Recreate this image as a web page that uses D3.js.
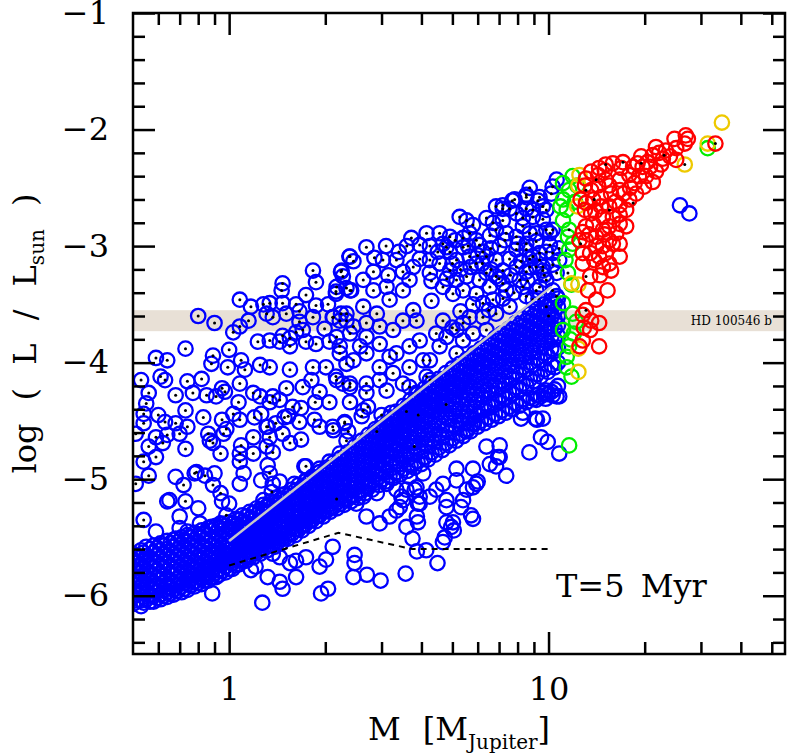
<!DOCTYPE html>
<html>
<head>
<meta charset="utf-8">
<script src="https://cdn.jsdelivr.net/npm/d3@7"></script>
<style>
  body { margin: 0; background: #fff; }
  text { font-family: "DejaVu Serif", serif; fill: #000; }
</style>
</head>
<body>
<svg id="chart" width="789" height="756"></svg>
<script>
// ---- data (mass in M_Jupiter, log L/Lsun) ----

// dense lower sequence, one row per mass column: [mass, logL, logL, ...]
var bandCols = [
  [0.50, -5.64,-5.69,-5.77,-5.83,-5.87,-5.95,-6.01,-6.07],
  [0.53, -5.61,-5.67,-5.73,-5.8,-5.86,-5.92,-5.98,-6.04,-6.09],
  [0.55, -5.58,-5.66,-5.71,-5.79,-5.84,-5.9,-5.97,-6.03],
  [0.58, -5.57,-5.63,-5.7,-5.75,-5.82,-5.89,-5.94,-6.0,-6.05],
  [0.61, -5.55,-5.61,-5.68,-5.74,-5.81,-5.86,-5.92,-5.99,-6.03],
  [0.64, -5.53,-5.6,-5.66,-5.72,-5.78,-5.85,-5.9,-5.97,-6.01],
  [0.67, -5.52,-5.58,-5.64,-5.7,-5.77,-5.82,-5.89,-5.95,-5.99],
  [0.71, -5.5,-5.56,-5.62,-5.68,-5.75,-5.8,-5.87,-5.92,-5.97],
  [0.74, -5.48,-5.54,-5.6,-5.67,-5.72,-5.79,-5.84,-5.9,-5.95],
  [0.78, -5.46,-5.52,-5.58,-5.64,-5.71,-5.76,-5.82,-5.88,-5.92],
  [0.82, -5.44,-5.5,-5.57,-5.62,-5.68,-5.74,-5.8,-5.85,-5.9],
  [0.86, -5.42,-5.48,-5.54,-5.6,-5.66,-5.72,-5.77,-5.83,-5.87],
  [0.91, -5.4,-5.46,-5.52,-5.58,-5.63,-5.7,-5.75,-5.8,-5.84],
  [0.95, -5.39,-5.44,-5.5,-5.56,-5.62,-5.68,-5.73,-5.79],
  [1.00, -5.37,-5.42,-5.48,-5.54,-5.6,-5.65,-5.71,-5.77],
  [1.05, -5.34,-5.4,-5.46,-5.51,-5.57,-5.63,-5.68,-5.74],
  [1.10, -5.31,-5.37,-5.43,-5.49,-5.54,-5.6,-5.65,-5.7],
  [1.16, -5.28,-5.34,-5.4,-5.46,-5.51,-5.57,-5.62,-5.67],
  [1.22, -5.25,-5.31,-5.37,-5.43,-5.48,-5.54,-5.59,-5.63],
  [1.28, -5.22,-5.28,-5.34,-5.4,-5.45,-5.51,-5.56,-5.6],
  [1.35, -5.19,-5.25,-5.31,-5.37,-5.42,-5.48,-5.53,-5.57],
  [1.42, -5.16,-5.22,-5.28,-5.33,-5.39,-5.45,-5.5,-5.54],
  [1.49, -5.13,-5.19,-5.25,-5.3,-5.36,-5.41,-5.46,-5.51],
  [1.57, -5.09,-5.15,-5.21,-5.27,-5.32,-5.37,-5.42,-5.47],
  [1.65, -5.05,-5.11,-5.17,-5.22,-5.28,-5.33,-5.38,-5.43],
  [1.73, -5.02,-5.08,-5.14,-5.19,-5.25,-5.3,-5.35,-5.39],
  [1.82, -4.98,-5.04,-5.1,-5.16,-5.21,-5.26,-5.31,-5.35],
  [1.92, -4.94,-5.0,-5.06,-5.11,-5.17,-5.22,-5.27,-5.31],
  [2.02, -4.9,-4.96,-5.02,-5.08,-5.13,-5.18,-5.23,-5.27],
  [2.12, -4.86,-4.92,-4.98,-5.03,-5.09,-5.14,-5.19,-5.24],
  [2.23, -4.82,-4.88,-4.94,-5.0,-5.05,-5.11,-5.16,-5.21],
  [2.35, -4.77,-4.83,-4.89,-4.95,-5.01,-5.06,-5.12,-5.17],
  [2.47, -4.72,-4.78,-4.84,-4.9,-4.96,-5.02,-5.08,-5.14],
  [2.60, -4.67,-4.73,-4.79,-4.85,-4.91,-4.97,-5.04,-5.1],
  [2.73, -4.62,-4.68,-4.74,-4.8,-4.87,-4.93,-5.0,-5.07],
  [2.87, -4.57,-4.63,-4.69,-4.76,-4.82,-4.89,-4.96,-5.03],
  [3.02, -4.52,-4.58,-4.64,-4.71,-4.77,-4.84,-4.92,-5.0],
  [3.18, -4.47,-4.53,-4.6,-4.66,-4.73,-4.8,-4.88,-4.97],
  [3.34, -4.42,-4.48,-4.55,-4.62,-4.69,-4.76,-4.85,-4.94],
  [3.52, -4.37,-4.43,-4.5,-4.57,-4.64,-4.72,-4.81,-4.91],
  [3.70, -4.32,-4.38,-4.45,-4.52,-4.6,-4.68,-4.78,-4.88],
  [3.89, -4.27,-4.33,-4.4,-4.47,-4.55,-4.63,-4.74,-4.85],
  [4.10, -4.22,-4.28,-4.35,-4.43,-4.51,-4.6,-4.7,-4.81],
  [4.30, -4.18,-4.24,-4.31,-4.39,-4.47,-4.56,-4.66,-4.77],
  [4.53, -4.14,-4.2,-4.27,-4.35,-4.43,-4.52,-4.62,-4.73],
  [4.77, -4.09,-4.15,-4.22,-4.3,-4.38,-4.47,-4.58,-4.69],
  [5.00, -4.05,-4.11,-4.18,-4.26,-4.34,-4.43,-4.54,-4.65],
  [5.27, -4.01,-4.07,-4.14,-4.22,-4.3,-4.4,-4.5,-4.61],
  [5.55, -3.97,-4.03,-4.1,-4.18,-4.26,-4.36,-4.46,-4.57],
  [5.84, -3.92,-3.98,-4.05,-4.13,-4.22,-4.32,-4.42,-4.53],
  [6.14, -3.88,-3.94,-4.01,-4.09,-4.18,-4.28,-4.39,-4.5],
  [6.46, -3.84,-3.9,-3.97,-4.05,-4.14,-4.24,-4.36,-4.47],
  [6.80, -3.79,-3.86,-3.93,-4.01,-4.1,-4.2,-4.32,-4.44],
  [7.15, -3.75,-3.82,-3.89,-3.97,-4.06,-4.16,-4.28,-4.41],
  [7.52, -3.71,-3.78,-3.85,-3.93,-4.02,-4.12,-4.25,-4.38],
  [7.90, -3.66,-3.73,-3.8,-3.88,-3.97,-4.08,-4.21,-4.35],
  [8.30, -3.62,-3.69,-3.76,-3.84,-3.93,-4.04,-4.18,-4.32],
  [8.75, -3.58,-3.65,-3.72,-3.8,-3.89,-4.0,-4.14,-4.3],
  [9.20, -3.54,-3.61,-3.68,-3.76,-3.85,-3.96,-4.1,-4.28],
  [9.70, -3.5,-3.57,-3.64,-3.72,-3.81,-3.92,-4.06,-4.26],
  [10.2, -3.47,-3.54,-3.61,-3.69,-3.78,-3.88,-4.02,-4.25],
  [10.7, -3.45,-3.52,-3.6,-3.68,-3.77,-3.87,-4.0,-4.2]
];

// second, staggered set of columns in the same sequence
var bandColsMid = [
  [0.515, -5.66,-5.72,-5.79,-5.85,-5.91,-5.97,-6.04],
  [0.54, -5.63,-5.7,-5.76,-5.83,-5.89,-5.95,-6.01,-6.06],
  [0.565, -5.6,-5.68,-5.74,-5.81,-5.87,-5.93,-6.0,-6.05],
  [0.595, -5.59,-5.65,-5.72,-5.78,-5.84,-5.91,-5.96,-6.02],
  [0.625, -5.57,-5.64,-5.7,-5.76,-5.83,-5.89,-5.95,-6.0],
  [0.655, -5.55,-5.62,-5.68,-5.75,-5.81,-5.87,-5.93,-5.98],
  [0.69, -5.54,-5.6,-5.66,-5.72,-5.79,-5.85,-5.91,-5.96],
  [0.725, -5.52,-5.58,-5.65,-5.71,-5.77,-5.83,-5.89,-5.94],
  [0.76, -5.5,-5.56,-5.63,-5.69,-5.75,-5.81,-5.86,-5.91],
  [0.80, -5.48,-5.54,-5.61,-5.67,-5.73,-5.79,-5.84,-5.89],
  [0.84, -5.46,-5.52,-5.59,-5.65,-5.71,-5.77,-5.82,-5.87],
  [0.885, -5.44,-5.5,-5.57,-5.63,-5.69,-5.74,-5.79,-5.84],
  [0.93, -5.42,-5.48,-5.55,-5.61,-5.67,-5.72,-5.77,-5.82],
  [0.975, -5.4,-5.46,-5.52,-5.59,-5.64,-5.7,-5.75,-5.8],
  [1.025, -5.38,-5.44,-5.5,-5.56,-5.62,-5.67,-5.72,-5.77],
  [1.075, -5.35,-5.41,-5.47,-5.53,-5.59,-5.64,-5.69,-5.73],
  [1.13, -5.32,-5.38,-5.44,-5.5,-5.56,-5.61,-5.66,-5.7],
  [1.19, -5.29,-5.35,-5.41,-5.47,-5.53,-5.58,-5.63,-5.67],
  [1.25, -5.26,-5.32,-5.38,-5.44,-5.5,-5.55,-5.6,-5.64],
  [1.315, -5.23,-5.29,-5.35,-5.41,-5.47,-5.52,-5.57,-5.61],
  [1.385, -5.2,-5.26,-5.32,-5.38,-5.44,-5.49,-5.54,-5.58],
  [1.455, -5.17,-5.23,-5.29,-5.35,-5.41,-5.46,-5.51,-5.55],
  [1.53, -5.14,-5.2,-5.26,-5.32,-5.37,-5.42,-5.47,-5.51],
  [1.61, -5.1,-5.16,-5.22,-5.28,-5.33,-5.38,-5.43,-5.48],
  [1.69, -5.07,-5.13,-5.19,-5.24,-5.3,-5.35,-5.4,-5.44],
  [1.775, -5.03,-5.09,-5.15,-5.21,-5.26,-5.31,-5.36,-5.4],
  [1.87, -4.99,-5.05,-5.11,-5.17,-5.22,-5.27,-5.32,-5.36],
  [1.97, -4.95,-5.01,-5.07,-5.13,-5.18,-5.23,-5.28,-5.32],
  [2.07, -4.91,-4.97,-5.03,-5.09,-5.14,-5.19,-5.24,-5.28],
  [2.175, -4.87,-4.93,-4.99,-5.05,-5.1,-5.15,-5.2,-5.25],
  [2.29, -4.82,-4.88,-4.94,-5.0,-5.06,-5.11,-5.17,-5.22],
  [2.41, -4.78,-4.84,-4.9,-4.96,-5.02,-5.08,-5.14,-5.19],
  [2.535, -4.73,-4.79,-4.85,-4.91,-4.97,-5.03,-5.1,-5.16],
  [2.665, -4.68,-4.74,-4.8,-4.86,-4.92,-4.99,-5.06,-5.12],
  [2.80, -4.63,-4.69,-4.75,-4.82,-4.88,-4.95,-5.02,-5.09],
  [2.945, -4.58,-4.64,-4.7,-4.77,-4.84,-4.91,-4.98,-5.05],
  [3.10, -4.53,-4.59,-4.66,-4.72,-4.79,-4.86,-4.94,-5.02],
  [3.26, -4.48,-4.54,-4.61,-4.68,-4.75,-4.82,-4.9,-4.99],
  [3.43, -4.43,-4.49,-4.56,-4.63,-4.7,-4.78,-4.87,-4.96],
  [3.61, -4.38,-4.44,-4.51,-4.58,-4.66,-4.74,-4.83,-4.93],
  [3.80, -4.33,-4.39,-4.46,-4.53,-4.61,-4.69,-4.79,-4.9],
  [4.00, -4.28,-4.34,-4.41,-4.49,-4.57,-4.66,-4.76,-4.87],
  [4.20, -4.23,-4.29,-4.37,-4.45,-4.53,-4.62,-4.72,-4.83],
  [4.415, -4.19,-4.25,-4.33,-4.41,-4.49,-4.58,-4.68,-4.79],
  [4.65, -4.15,-4.21,-4.29,-4.37,-4.45,-4.54,-4.64,-4.75],
  [4.885, -4.11,-4.17,-4.24,-4.32,-4.4,-4.49,-4.6,-4.71],
  [5.135, -4.06,-4.12,-4.2,-4.28,-4.36,-4.46,-4.56,-4.67],
  [5.41, -4.02,-4.08,-4.16,-4.24,-4.32,-4.42,-4.52,-4.63],
  [5.695, -3.98,-4.04,-4.12,-4.2,-4.28,-4.38,-4.48,-4.59],
  [5.99, -3.94,-4.0,-4.07,-4.15,-4.24,-4.34,-4.45,-4.55],
  [6.30, -3.89,-3.96,-4.03,-4.11,-4.2,-4.3,-4.41,-4.52],
  [6.63, -3.85,-3.92,-3.99,-4.07,-4.16,-4.26,-4.38,-4.49],
  [6.975, -3.81,-3.88,-3.95,-4.03,-4.12,-4.22,-4.34,-4.46],
  [7.335, -3.77,-3.84,-3.91,-3.99,-4.08,-4.18,-4.31,-4.43],
  [7.71, -3.72,-3.79,-3.86,-3.94,-4.03,-4.14,-4.27,-4.4],
  [8.10, -3.68,-3.75,-3.82,-3.9,-3.99,-4.1,-4.23,-4.37],
  [8.525, -3.64,-3.71,-3.78,-3.86,-3.95,-4.06,-4.2,-4.34],
  [8.975, -3.6,-3.67,-3.74,-3.82,-3.91,-4.02,-4.16,-4.31],
  [9.45, -3.56,-3.63,-3.7,-3.78,-3.87,-3.98,-4.12,-4.29],
  [9.95, -3.52,-3.59,-3.66,-3.74,-3.83,-3.94,-4.08,-4.27],
  [10.45, -3.49,-3.56,-3.63,-3.71,-3.8,-3.9,-4.04,-4.23]
];

// scattered open blue circles
var blueOpen = [
  [0.885,-5.98],[1.27,-6.06],[0.85,-5.84],[1.32,-5.84],[1.44,-5.88],[1.47,-5.94],[1.62,-5.84],[1.94,-5.98],
  [2.04,-5.94],[1.17,-5.78],[1.21,-5.75],[1.92,-5.75],[2.01,-5.69],[2.11,-5.58],[1.74,-5.67],[1.62,-5.7],
  [1.55,-5.72],[1.44,-5.67],[1.37,-5.64],
  [0.59,-5.45],[0.68,-5.51],[0.7,-5.42],[0.74,-5.45],[0.64,-5.19],[0.65,-5.18],[0.7,-5.32],[0.8,-5.25],
  [0.68,-4.98],[0.9,-4.95],[0.95,-5.19],[1.0,-5.21],[0.81,-5.38],[0.83,-5.47],[0.88,-5.41],[0.94,-5.38],
  [1.03,-5.38],[1.11,-5.39],[1.03,-5.45],[1.08,-5.04],[1.11,-4.95],[1.32,-4.88],[1.26,-5.01],[1.37,-5.04],
  [1.44,-5.02],[1.28,-5.18],[1.31,-5.24],[1.25,-5.27],[1.37,-5.29],[1.44,-5.18],[1.6,-5.04],[1.74,-5.01],
  [1.64,-5.21],[1.97,-4.95],[2.14,-5.01],[1.72,-4.89],[1.92,-4.91],
  [2.47,-5.65],[2.47,-5.72],[2.45,-5.84],[2.7,-5.82],[2.98,-5.87],[3.57,-5.81],[4.49,-5.72],[3.87,-5.62],
  [4.14,-5.61],[4.67,-5.54],[4.73,-5.5],[5.05,-5.44],[4.96,-5.41],[4.79,-5.37],[5.02,-5.37],[3.75,-5.51],
  [3.59,-5.41],[3.87,-5.32],[3.9,-5.37],[5.72,-5.31],[5.8,-5.34],[5.32,-5.24],[4.79,-5.24],[3.9,-5.21],
  [3.95,-5.15],[3.81,-5.09],[3.42,-5.24],[3.46,-5.15],[5.8,-5.07],[6.0,-5.02],[7.37,-4.97],[6.95,-4.81],
  [6.55,-4.87],[6.39,-4.72],[7.03,-4.71],[5.8,-4.91],[5.15,-4.91],[8.71,-4.77],[9.47,-4.64],[9.94,-4.68],
  [10.8,-4.78],[8.2,-4.48],[9.1,-4.48],[5.53,-4.59],[5.8,-4.52],[9.6,-4.48],[9.8,-4.31],[10.3,-4.28],
  [10.8,-4.29],[6.85,-4.89],[7.03,-4.81],[9.84,-4.24],[10.6,-4.29],[9.15,-4.32],[8.31,-4.43],[9.2,-4.49],
  [3.59,-5.09],[3.86,-5.07],[3.95,-5.21],[4.25,-5.15],[4.45,-5.09],[4.67,-5.04],[4.79,-5.18],[5.4,-5.18],
  [5.54,-5.09],[5.15,-5.01],[5.94,-5.04],[4.05,-4.95],[3.67,-4.98],[3.34,-5.09],[3.11,-5.04],[2.9,-5.12],
  [2.75,-5.04],[2.63,-5.15],[2.5,-5.21],[2.69,-5.32],[2.96,-5.38],[3.18,-5.32],[3.34,-5.27],[3.5,-5.18],
  [25.8,-2.65],[27.6,-2.72]
];

// blue circles with a central dot
var blueDotted = [
  [1.47,-3.32],[1.87,-3.31],[1.08,-3.46],[1.17,-3.52],[1.28,-3.5],[1.34,-3.49],[1.47,-3.49],[1.62,-3.5],
  [1.74,-3.42],[1.87,-3.51],[2.04,-3.5],[2.16,-3.41],[2.33,-3.36],[0.8,-3.6],[0.9,-3.66],[1.15,-3.64],
  [1.08,-3.69],[1.03,-3.74],[1.31,-3.58],[1.37,-3.61],[1.51,-3.58],[1.66,-3.56],[1.66,-3.65],[1.83,-3.61],
  [1.99,-3.71],[2.11,-3.61],[2.24,-3.58],[2.33,-3.64],[1.47,-3.77],[1.55,-3.79],[1.62,-3.74],[1.7,-3.72],
  [1.44,-3.82],[1.55,-3.86],[1.74,-3.82],[1.87,-3.84],[2.06,-3.82],[2.22,-3.86],[0.73,-3.88],[0.59,-3.96],
  [0.64,-3.98],[0.89,-3.94],[1.0,-3.89],[1.09,-3.98],[1.23,-3.82],[1.34,-3.81],[0.88,-4.01],[0.99,-4.04],
  [1.12,-4.06],[1.25,-4.02],[1.34,-4.04],[1.55,-4.06],[1.83,-4.04],[2.01,-4.04],[2.33,-4.01],[2.16,-4.12],
  [0.53,-4.15],[0.61,-4.12],[0.63,-4.15],[0.74,-4.16],[0.82,-4.14],[0.95,-4.22],[1.08,-4.18],[1.19,-4.26],
  [1.25,-4.29],[1.37,-4.29],[1.51,-4.22],[1.7,-4.21],[1.81,-4.15],[1.92,-4.25],[2.27,-4.18],[0.56,-4.26],
  [0.55,-4.35],[0.68,-4.28],[0.77,-4.26],[0.85,-4.28],[0.91,-4.29],[0.97,-4.25],[1.07,-4.34],[1.26,-4.44],
  [1.34,-4.34],[1.44,-4.32],[1.58,-4.38],[1.68,-4.39],[1.86,-4.34],[2.06,-4.34],[2.11,-4.55],[2.3,-4.52],
  [0.54,-4.44],[0.54,-4.52],[0.6,-4.45],[0.63,-4.51],[0.73,-4.41],[0.68,-4.52],[0.74,-4.55],[0.83,-4.47],
  [0.86,-4.61],[0.95,-4.49],[0.98,-4.57],[1.03,-4.44],[1.08,-4.49],[1.2,-4.47],[1.31,-4.55],[1.4,-4.52],
  [1.49,-4.47],[1.66,-4.51],[1.85,-4.49],[0.51,-4.61],[0.59,-4.64],[0.64,-4.62],[0.56,-4.72],[0.62,-4.69],
  [0.7,-4.61],[0.73,-4.74],[0.87,-4.67],[0.89,-4.69],[0.96,-4.61],[1.09,-4.71],[1.08,-4.78],[1.19,-4.64],
  [1.32,-4.55],[1.34,-4.64],[1.31,-4.72],[1.37,-4.77],[1.47,-4.61],[1.53,-4.46],[1.55,-4.69],[1.68,-4.66],
  [2.06,-4.85],[1.74,-4.89],[0.54,-4.85],[0.59,-4.81],[0.79,-4.94],[1.08,-4.85],[0.94,-4.78],[1.34,-4.95],
  [1.19,-4.78],[1.92,-4.55],[2.33,-4.67],[2.22,-4.78],
  [0.54,-5.35],[0.73,-5.19],[0.72,-5.05],[0.78,-4.95],[0.84,-4.97],[0.89,-5.05],[0.94,-5.12],[0.98,-5.31],
  [0.56,-4.97],[0.51,-5.04],[1.36,-5.11],
  [2.39,-4.34],[2.63,-4.41],[2.72,-4.38],[2.6,-4.46],[3.0,-4.45],[3.22,-4.43],[2.9,-4.59],[3.59,-4.42],
  [3.91,-4.45],[2.3,-4.51],[2.36,-4.59],[2.12,-4.58],[4.78,-4.36],[3.8,-4.72],[2.17,-5.17],
  [1.46,-3.38],[1.83,-3.21],[2.24,-3.22],[2.27,-3.26],[2.38,-3.09],[2.16,-3.39],[2.41,-3.38],
  [8.73,-2.5],[7.83,-2.6],[9.26,-2.61],[9.6,-2.66],[8.52,-2.68],[10.2,-2.55],[8.93,-2.75],[8.31,-2.76],
  [9.6,-2.77],[10.3,-2.86],[9.84,-2.86],[8.73,-2.89],[7.93,-2.72],[7.55,-2.68],[7.19,-2.78],[6.85,-2.86],
  [7.37,-2.89],[7.93,-2.92],[8.52,-2.98],[9.15,-2.96],[10.1,-2.99],[10.8,-3.02],[9.84,-3.05],[9.37,-3.12],
  [8.73,-3.11],[7.93,-3.03],[7.55,-3.11],[7.03,-3.0],[6.55,-2.91],[6.08,-2.99],[6.39,-3.09],[6.85,-3.12],
  [7.19,-3.21],[7.93,-3.18],[8.52,-3.22],[9.15,-3.18],[9.7,-3.25],[10.3,-3.16],[10.8,-3.12],
  [5.27,-2.75],[5.54,-2.78],[5.8,-2.82],[6.39,-2.76],[6.7,-2.8],[7.19,-2.68],
  [3.72,-2.93],[4.15,-2.89],[4.56,-2.89],[3.95,-2.99],[4.25,-3.0],[4.67,-2.98],[4.91,-3.05],[5.4,-3.01],
  [5.66,-3.09],[5.15,-3.12],[5.94,-3.15],[6.23,-3.05],[5.94,-2.95],[6.39,-3.23],[6.85,-3.26],[7.19,-3.32],
  [6.55,-3.35],[6.08,-3.29],[5.54,-3.26],[5.15,-3.29],[4.91,-3.21],[4.56,-3.15],[4.25,-3.12],[3.95,-3.11],
  [3.77,-3.18],[4.25,-3.23],[4.67,-3.35],[5.02,-3.41],[5.4,-3.38],[5.94,-3.41],[6.23,-3.49],
  [2.69,-3.01],[2.39,-3.09],[2.45,-3.13],[2.25,-3.21],[3.03,-3.12],[3.34,-3.12],[2.83,-3.22],[3.15,-3.25],
  [3.5,-3.22],[2.63,-3.29],[2.39,-3.38],[2.17,-3.35],[2.12,-3.61],[2.33,-3.58],[2.63,-3.52],[2.83,-3.38],
  [3.11,-3.35],[3.5,-3.38],[3.67,-3.29],[3.18,-3.46],[2.9,-3.58],[2.69,-3.66],[2.39,-3.75],[2.17,-3.78],
  [2.57,-3.86],[2.96,-3.84],[3.18,-3.95],[3.67,-3.86],[4.05,-3.98],[3.26,-4.09],[2.96,-4.15],[2.69,-4.18],
  [2.39,-4.18],[3.67,-4.21],[4.25,-4.15],
  [6.23,-3.61],[6.85,-3.58],[7.55,-3.52],[8.52,-3.43],[9.15,-3.38],[9.84,-3.29],[9.6,-3.18],[8.93,-3.09],
  [8.12,-3.29],[7.37,-3.38],[6.7,-3.46],[6.39,-3.72],[5.8,-3.75],[5.4,-3.81],[5.15,-3.92],
  [2.22,-3.64],[2.45,-3.69],[2.69,-3.78],[2.96,-3.69],[3.26,-3.72],[3.5,-3.64],[2.22,-3.92],[2.45,-3.98],
  [2.69,-3.92],[2.96,-4.04],[3.34,-3.92],[3.67,-4.04],[2.17,-4.15],[2.39,-4.21],[2.69,-4.26],[3.11,-4.24],
  [3.5,-4.18],[3.86,-4.26],[4.15,-4.12],[4.25,-3.98],[4.56,-3.86],[4.79,-3.78],[5.15,-3.72],[5.4,-3.66],
  [5.66,-3.61],[4.67,-3.64],[4.45,-3.75],[3.95,-3.81],[3.86,-3.64],[3.77,-3.55],[4.3,-3.47],[5.3,-3.56],
  [5.0,-3.7],
  [6.85,-2.66],[7.19,-2.65],[7.7,-2.61],[8.52,-2.56],[5.66,-2.89],[5.4,-2.93],[4.91,-2.92],[4.79,-3.01],
  [8.52,-2.58],[9.37,-2.58],[10.3,-2.49],[10.6,-2.43],[8.93,-2.69],[9.84,-2.69],[8.31,-2.83],[9.15,-2.89],
  [10.1,-2.89],[8.52,-3.03],[9.37,-3.06],[10.3,-3.06],[8.73,-3.18],[9.6,-3.21],[10.6,-3.23],
  [8.31,-3.35],[9.37,-3.35],[10.3,-3.38],[8.93,-3.46],[9.84,-3.52],[10.6,-3.43],
  [5.0,-3.15],[5.3,-3.2],[5.7,-3.18],[6.2,-3.15],[6.6,-3.2],[7.0,-3.28],[7.6,-3.25],[8.2,-3.13],
  [8.0,-2.98],[7.3,-2.95],[6.6,-3.02],[6.0,-3.08],[5.6,-3.0],[5.1,-2.95],[4.5,-3.05],[4.3,-3.3],
  [4.8,-3.28],[5.8,-3.5],[6.5,-3.55],[7.2,-3.45],[7.8,-3.4],[8.6,-3.3],[9.3,-3.45],[10.0,-3.6],
  [3.4,-3.05],[3.1,-3.0],[2.85,-3.1],[3.6,-3.0]
];

var greenPts = [
  [11.1,-2.46],[11.9,-2.4],[11.6,-2.52],[11.1,-2.6],[10.9,-2.66],[11.4,-2.69],[11.1,-2.78],[11.6,-2.86],
  [11.5,-2.92],[11.9,-2.98],[11.6,-3.03],[11.5,-3.23],[11.8,-3.33],[11.1,-3.49],[11.9,-3.58],[11.1,-3.72],
  [12.0,-3.75],[11.6,-3.86],[11.4,-3.95],[11.4,-4.04],[11.8,-4.12],[11.6,-4.71],[31.5,-2.16],
  [12.1,-2.62],[11.3,-3.12],[12.2,-3.65],[11.7,-3.8],[12.3,-2.48]
];
var greenDotted = [[11.5,-3.23],[11.6,-2.86]];

var yellowPts = [
  [12.5,-2.39],[12.4,-2.48],[12.4,-3.33],[11.8,-3.32],[12.4,-3.88],[12.4,-4.08],[26.7,-2.3],
  [31.5,-2.12],[34.9,-1.94],[12.3,-2.66]
];
var yellowDotted = [[26.7,-2.3]];

var redPts = [
  [24.8,-2.08],[26.9,-2.05],[27.3,-2.08],[26.7,-2.12],[25.1,-2.16],[23.3,-2.18],[21.7,-2.15],[22.2,-2.2],
  [24.0,-2.23],[25.1,-2.26],[22.8,-2.25],[21.2,-2.22],[20.4,-2.28],[19.5,-2.23],[19.0,-2.29],[19.7,-2.32],
  [18.4,-2.32],[17.1,-2.28],[16.9,-2.33],[15.9,-2.29],[15.1,-2.3],[15.0,-2.35],[14.4,-2.33],[14.3,-2.39],
  [13.6,-2.36],[13.1,-2.42],[13.0,-2.48],[13.6,-2.52],[14.3,-2.48],[15.1,-2.43],[15.5,-2.48],[16.7,-2.43],
  [17.9,-2.39],[18.6,-2.46],[20.2,-2.4],[21.7,-2.36],[21.2,-2.45],[19.9,-2.49],[18.8,-2.55],[17.9,-2.6],
  [16.7,-2.52],[15.7,-2.55],[14.6,-2.58],[13.8,-2.6],[13.1,-2.63],[12.6,-2.6],[13.0,-2.69],[13.6,-2.72],
  [14.6,-2.66],[15.5,-2.66],[16.7,-2.65],[17.5,-2.69],[16.7,-2.73],[15.9,-2.75],[14.8,-2.75],[13.8,-2.81],
  [13.1,-2.83],[12.8,-2.88],[12.5,-2.95],[13.1,-2.95],[14.1,-2.92],[14.8,-2.86],[15.5,-2.83],[16.7,-2.81],
  [17.5,-2.83],[16.3,-2.89],[15.5,-2.95],[14.8,-3.0],[14.1,-3.0],[13.5,-3.06],[12.8,-3.06],[12.8,-3.15],
  [13.5,-3.26],[14.4,-3.09],[15.1,-3.06],[15.9,-2.98],[16.7,-2.98],[16.7,-3.09],[15.5,-3.15],[14.8,-3.18],
  [15.7,-3.21],[15.3,-3.38],[14.1,-3.46],[13.1,-3.55],[12.8,-3.59],[13.6,-3.64],[14.4,-3.66],[13.5,-3.72],
  [12.8,-3.81],[14.4,-3.86],[12.5,-3.86],[33.3,-2.12],
  [18.0,-2.5],[19.2,-2.4],[20.8,-2.32],[22.5,-2.3],[17.2,-2.55],[16.2,-2.62],[14.0,-2.7],[13.4,-2.9],
  [15.0,-2.9],[13.9,-3.12],[14.5,-3.25],[13.3,-3.38],[12.9,-3.7]
];
var redDotted = [
  [15.1,-2.3],[17.1,-2.28],[19.5,-2.29],[23.0,-2.22],[14.1,-2.43],[13.1,-2.52],[13.9,-2.6],[18.4,-2.63],
  [15.5,-2.69],[12.6,-2.98],[13.1,-3.26],[13.1,-3.55],[33.3,-2.12]
];

// reference curves
var grayLine = [[1.0,-5.53],[10.2,-3.35]];
var dashLine = [[1.0,-5.74],[2.2,-5.46],[3.75,-5.6],[10.2,-5.6]];

// observed object: HD 100546 b luminosity range
var bandLow = -3.73, bandHigh = -3.55, bandLabel = "HD 100546 b";

var xMajor = [1, 10];
var xMinor = [0.6,0.7,0.8,0.9,2,3,4,5,6,7,8,9,20,30,40,50];
var yMajor = [-6,-5,-4,-3,-2,-1];
var yMinor = [-6.4,-6.2,-5.8,-5.6,-5.4,-5.2,-4.8,-4.6,-4.4,-4.2,-3.8,-3.6,-3.4,-3.2,-2.8,-2.6,-2.4,-2.2,-1.8,-1.6,-1.4,-1.2];

// ---- chart ----
var pL = 133, pR = 785, pT = 13, pB = 654;

var x = d3.scaleLog().domain([0.5, 55]).range([pL, pR]);
var y = d3.scaleLinear().domain([-6.5, -1]).range([pB, pT]);

var svg = d3.select('#chart');

svg.append('clipPath').attr('id', 'plotclip')
  .append('rect')
  .attr('x', pL).attr('y', pT)
  .attr('width', pR - pL).attr('height', pB - pT);

var plot = svg.append('g').attr('clip-path', 'url(#plotclip)');

// luminosity band of HD 100546 b
plot.append('rect')
  .attr('x', pL)
  .attr('width', pR - pL)
  .attr('y', y(bandHigh))
  .attr('height', y(bandLow) - y(bandHigh))
  .attr('fill', '#e8e0d6');

svg.append('text')
  .attr('x', 772)
  .attr('y', (y(bandHigh) + y(bandLow)) / 2)
  .attr('dy', '0.35em')
  .attr('text-anchor', 'end')
  .style('font-size', '12px')
  .text(bandLabel);

var bandPts = [];
bandCols.concat(bandColsMid).forEach(function(col) {
  for (var i = 1; i < col.length; i++) bandPts.push([col[0], col[i]]);
});

function rings(pts, color) {
  plot.append('g').selectAll('circle').data(pts).enter()
    .append('circle')
    .attr('cx', function(d) { return x(d[0]); })
    .attr('cy', function(d) { return y(d[1]); })
    .attr('r', 7.2)
    .attr('fill', 'none')
    .attr('stroke', color)
    .attr('stroke-width', 2.3);
}

function dots(pts) {
  plot.append('g').selectAll('circle').data(pts).enter()
    .append('circle')
    .attr('cx', function(d) { return x(d[0]); })
    .attr('cy', function(d) { return y(d[1]); })
    .attr('r', 1.5)
    .attr('fill', '#000');
}

rings(bandPts, '#0000ff');
rings(blueOpen, '#0000ff');
rings(blueDotted, '#0000ff');
dots(blueDotted);
rings(greenPts, '#00ee00');
dots(greenDotted);
rings(yellowPts, '#eec900');
dots(yellowDotted);
rings(redPts, '#ff0000');
dots(redDotted);

var line = d3.line()
  .x(function(d) { return x(d[0]); })
  .y(function(d) { return y(d[1]); });

plot.append('path').datum(grayLine)
  .attr('d', line)
  .attr('fill', 'none')
  .attr('stroke', '#c8c8c8')
  .attr('stroke-width', 2.5);

plot.append('path').datum(dashLine)
  .attr('d', line)
  .attr('fill', 'none')
  .attr('stroke', '#000')
  .attr('stroke-width', 2)
  .attr('stroke-dasharray', '6,5');

// ---- axes: inward ticks on all four sides ----
function styleAxis(g) {
  g.select('.domain').remove();
  g.selectAll('line').attr('stroke', '#000').attr('stroke-width', 2.5);
  g.selectAll('text')
    .style('font-family', '"DejaVu Serif", serif')
    .style('font-size', '32px')
    .attr('fill', '#000');
}

svg.append('g').attr('transform', 'translate(0,' + pB + ')')
  .call(d3.axisBottom(x).tickValues(xMajor).tickSize(-22).tickPadding(23)
    .tickFormat(d3.format('d')))
  .call(styleAxis);
svg.append('g').attr('transform', 'translate(0,' + pB + ')')
  .call(d3.axisBottom(x).tickValues(xMinor).tickSize(-12).tickFormat(''))
  .call(styleAxis);
svg.append('g').attr('transform', 'translate(0,' + pT + ')')
  .call(d3.axisTop(x).tickValues(xMajor).tickSize(-22).tickFormat(''))
  .call(styleAxis);
svg.append('g').attr('transform', 'translate(0,' + pT + ')')
  .call(d3.axisTop(x).tickValues(xMinor).tickSize(-12).tickFormat(''))
  .call(styleAxis);

svg.append('g').attr('transform', 'translate(' + pL + ',0)')
  .call(d3.axisLeft(y).tickValues(yMajor).tickSize(-22).tickPadding(24)
    .tickFormat(d3.format('d')))
  .call(styleAxis);
svg.append('g').attr('transform', 'translate(' + pL + ',0)')
  .call(d3.axisLeft(y).tickValues(yMinor).tickSize(-12).tickFormat(''))
  .call(styleAxis);
svg.append('g').attr('transform', 'translate(' + pR + ',0)')
  .call(d3.axisRight(y).tickValues(yMajor).tickSize(-22).tickFormat(''))
  .call(styleAxis);
svg.append('g').attr('transform', 'translate(' + pR + ',0)')
  .call(d3.axisRight(y).tickValues(yMinor).tickSize(-12).tickFormat(''))
  .call(styleAxis);

svg.append('rect')
  .attr('x', pL).attr('y', pT)
  .attr('width', pR - pL).attr('height', pB - pT)
  .attr('fill', 'none')
  .attr('stroke', '#000')
  .attr('stroke-width', 2.5);

// ---- labels ----
var xl = svg.append('text')
  .attr('x', (pL + pR) / 2)
  .attr('y', 740)
  .attr('text-anchor', 'middle')
  .style('font-size', '32px')
  .style('word-spacing', '12px');
xl.append('tspan').text('M [M');
xl.append('tspan').attr('dy', 9).style('font-size', '20px').text('Jupiter');
xl.append('tspan').attr('dy', -9).text(']');

var yl = svg.append('text')
  .attr('transform', 'translate(36,' + ((pT + pB) / 2) + ') rotate(-90)')
  .attr('text-anchor', 'middle')
  .style('font-size', '32px')
  .style('word-spacing', '13px');
yl.append('tspan').text('log ( L / L');
yl.append('tspan').attr('dy', 8).style('font-size', '20px').text('sun');
yl.append('tspan').attr('dy', -8).text(' )');

svg.append('text')
  .attr('x', 556)
  .attr('y', 597)
  .style('font-size', '32px')
  .style('word-spacing', '6px')
  .text('T=5 Myr');
</script>
</body>
</html>
